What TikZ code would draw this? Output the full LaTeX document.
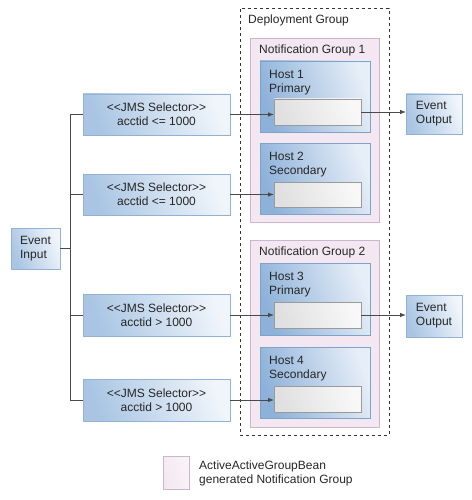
\documentclass[tikz,border=0pt]{standalone}
\usepackage{fontspec}
\setmainfont{Liberation Sans}
\usetikzlibrary{arrows.meta,shadows}
\definecolor{selD}{HTML}{A9C5E3}
\definecolor{selL}{HTML}{F0F5FB}
\definecolor{selB}{HTML}{93B2D1}
\definecolor{hostD}{HTML}{8DB1D9}
\definecolor{hostL}{HTML}{E6EEF7}
\definecolor{hostB}{HTML}{7FA3C8}
\definecolor{grpF}{HTML}{F3E8F1}
\definecolor{grpB}{HTML}{CDB5CB}
\definecolor{wD}{HTML}{E0E0E0}
\definecolor{wL}{HTML}{F8F8F8}
\definecolor{wB}{HTML}{9A9A9A}
\definecolor{lineC}{HTML}{4A4A4A}
\begin{document}
\begin{tikzpicture}[x=1pt,y=-1pt,
  every node/.style={font=\fontsize{12}{14}\selectfont, text=black!85},
  box/.style={anchor=north west, inner sep=0pt, outer sep=0pt},
  selbox/.style={box, draw=selB, line width=0.7pt, left color=selD, right color=selL, shading angle=110, align=center},
  hostbox/.style={box, draw=hostB, line width=0.7pt, left color=hostD, right color=hostL, shading angle=110, drop shadow={shadow xshift=1pt, shadow yshift=-1pt, opacity=0.25}},
  grpbox/.style={box, draw=grpB, line width=0.8pt, fill=grpF, drop shadow={shadow xshift=1pt, shadow yshift=-1pt, opacity=0.2}},
  wbox/.style={box, draw=wB, line width=0.6pt, left color=wD, right color=wL, shading angle=110, drop shadow={shadow xshift=0.8pt, shadow yshift=-0.8pt, opacity=0.35}},
  lbl/.style={anchor=north west, inner sep=0pt, align=left},
  conn/.style={draw=lineC, line width=0.8pt},
  arr/.style={conn, -{Latex[length=6pt,width=4.5pt]}}
]
\useasboundingbox (0,0) rectangle (471,500);
% deployment group
\node[box, draw=black!80, dashed, line width=0.8pt, minimum width=149pt, minimum height=427pt] (dg) at (240,8) {};
\node[lbl] (dgt) at (248,14.5) {Deployment Group};
% notification groups
\node[grpbox, minimum width=129pt, minimum height=184pt] (ng1) at (250,38) {};
\node[lbl] (ng1t) at (259,45) {Notification Group 1};
\node[grpbox, minimum width=129pt, minimum height=187pt] (ng2) at (250,240) {};
\node[lbl] (ng2t) at (259,247) {Notification Group 2};
% hosts
\node[hostbox, minimum width=110pt, minimum height=71pt] (h1) at (260,61) {};
\node[lbl] (h1t) at (269,70) {Host 1\\Primary};
\node[wbox, minimum width=87pt, minimum height=26pt] (w1) at (274,99) {};
\node[hostbox, minimum width=110pt, minimum height=71pt] (h2) at (260,143) {};
\node[lbl] (h2t) at (269,152) {Host 2\\Secondary};
\node[wbox, minimum width=87pt, minimum height=25pt] (w2) at (274,182) {};
\node[hostbox, minimum width=110pt, minimum height=72pt] (h3) at (260,263) {};
\node[lbl] (h3t) at (269,272) {Host 3\\Primary};
\node[wbox, minimum width=87pt, minimum height=26pt] (w3) at (274,302) {};
\node[hostbox, minimum width=110pt, minimum height=71pt] (h4) at (260,347) {};
\node[lbl] (h4t) at (269,356) {Host 4\\Secondary};
\node[wbox, minimum width=87pt, minimum height=26pt] (w4) at (274,386) {};
% selectors
\node[selbox, minimum width=147pt, minimum height=41pt] (s1) at (83,94) {<{}<JMS Selector>{}>\\acctid <= 1000};
\node[selbox, minimum width=147pt, minimum height=41pt] (s2) at (83,174) {<{}<JMS Selector>{}>\\acctid <= 1000};
\node[selbox, minimum width=147pt, minimum height=42pt] (s3) at (83,294) {<{}<JMS Selector>{}>\\acctid > 1000};
\node[selbox, minimum width=147pt, minimum height=42pt] (s4) at (83,379) {<{}<JMS Selector>{}>\\acctid > 1000};
% input / outputs
\node[selbox, align=left, minimum width=49pt, minimum height=41pt] (in) at (11,228) {Event\\Input};
\node[selbox, align=left, minimum width=56pt, minimum height=40pt] (o1) at (406,94) {Event\\Output};
\node[selbox, align=left, minimum width=56pt, minimum height=42pt] (o2) at (406,295) {Event\\Output};
% legend
\node[box, draw=grpB, line width=0.8pt, left color=grpF, right color=grpF!50!white, shading angle=110, minimum width=26pt, minimum height=33pt] (leg) at (163,456) {};
\node[lbl] (legt) at (199,461) {ActiveActiveGroupBean\\generated Notification Group};
% connectors
\coordinate (tk) at (70.7,0);
\draw[conn] (s1.west) -- (s1.west -| tk) -- (s4.west -| tk) -- (s4.west);
\draw[conn] (s2.west) -- (s2.west -| tk);
\draw[conn] (s3.west) -- (s3.west -| tk);
\draw[conn] (in.east) -- (in.east -| tk);
\draw[arr] (s1.east) -- (s1.east -| w1.west);
\draw[arr] (s2.east) -- (s2.east -| w2.west);
\draw[arr] (s3.east) -- (s3.east -| w3.west);
\draw[arr] (s4.east) -- (s4.east -| w4.west);
\draw[arr] (w1.east) -- (w1.east -| o1.west);
\draw[arr] (w3.east) -- (w3.east -| o2.west);
\end{tikzpicture}
\end{document}
